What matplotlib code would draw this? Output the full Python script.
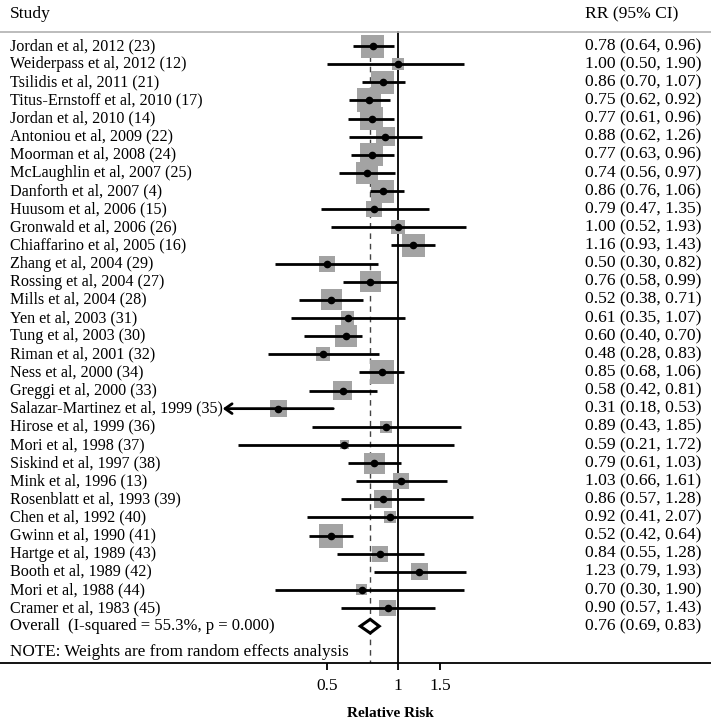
import numpy as np
import matplotlib
matplotlib.use("Agg")
import matplotlib.pyplot as plt
from matplotlib.patches import Polygon
from matplotlib import transforms

plt.rcParams["font.family"] = "Liberation Serif"

studies = ["Jordan et al, 2012 (23)", "Weiderpass et al, 2012 (12)", "Tsilidis et al, 2011 (21)",
           "Titus-Ernstoff et al, 2010 (17)", "Jordan et al, 2010 (14)", "Antoniou et al, 2009 (22)",
           "Moorman et al, 2008 (24)", "McLaughlin et al, 2007 (25)", "Danforth et al, 2007 (4)",
           "Huusom et al, 2006 (15)", "Gronwald et al, 2006 (26)", "Chiaffarino et al, 2005 (16)",
           "Zhang et al, 2004 (29)", "Rossing et al, 2004 (27)", "Mills et al, 2004 (28)",
           "Yen et al, 2003 (31)", "Tung et al, 2003 (30)", "Riman et al, 2001 (32)",
           "Ness et al, 2000 (34)", "Greggi et al, 2000 (33)", "Salazar-Martinez et al, 1999 (35)",
           "Hirose et al, 1999 (36)", "Mori et al, 1998 (37)", "Siskind et al, 1997 (38)",
           "Mink et al, 1996 (13)", "Rosenblatt et al, 1993 (39)", "Chen et al, 1992 (40)",
           "Gwinn et al, 1990 (41)", "Hartge et al, 1989 (43)", "Booth et al, 1989 (42)",
           "Mori et al, 1988 (44)", "Cramer et al, 1983 (45)"]
rr = [0.78, 1.00, 0.86, 0.75, 0.77, 0.88, 0.77, 0.74, 0.86, 0.79, 1.00, 1.16, 0.50, 0.76, 0.52, 0.61,
      0.60, 0.48, 0.85, 0.58, 0.31, 0.89, 0.59, 0.79, 1.03, 0.86, 0.92, 0.52, 0.84, 1.23, 0.70, 0.90]
lo = [0.64, 0.50, 0.70, 0.62, 0.61, 0.62, 0.63, 0.56, 0.76, 0.47, 0.52, 0.93, 0.30, 0.58, 0.38, 0.35,
      0.40, 0.28, 0.68, 0.42, 0.18, 0.43, 0.21, 0.61, 0.66, 0.57, 0.41, 0.42, 0.55, 0.79, 0.30, 0.57]
hi = [0.96, 1.90, 1.07, 0.92, 0.96, 1.26, 0.96, 0.97, 1.06, 1.35, 1.93, 1.43, 0.82, 0.99, 0.71, 1.07,
      0.70, 0.83, 1.06, 0.81, 0.53, 1.85, 1.72, 1.03, 1.61, 1.28, 2.07, 0.64, 1.28, 1.93, 1.90, 1.43]
# approximate random-effects weights (%)
weights = [4.68, 1.28, 4.68, 5.10, 4.68, 3.20, 4.68, 4.29, 4.68, 2.27, 1.74, 4.68, 2.27, 3.91, 3.91, 1.50,
           4.29, 1.74, 5.10, 3.20, 2.56, 1.28, 0.72, 3.91, 2.27, 2.87, 1.28, 5.10, 2.27, 2.56, 1.07, 2.27]
overall = (0.76, 0.69, 0.83)
overall_label = "Overall  (I-squared = 55.3%, p = 0.000)"
note = "NOTE: Weights are from random effects analysis"
xticks = [0.5, 1, 1.5]
arrow_rows = [20]

W, H = 711, 722
fig = plt.figure(figsize=(W / 100, H / 100), dpi=100)
ax = fig.add_axes([0, 59 / H, 1, 663 / H])
ax.set_xscale("log")
ax.set_xlim(0.02045, 21.2)
ax.set_ylim(34.03, -2.54)

n = len(studies)
ys = np.arange(n)
fs = 11.6      # left labels
fs_r = 12.6    # RR column
tr = transforms.blended_transform_factory(ax.transAxes, ax.transData)

# boxes (area proportional to weight)
side_px = np.sqrt(np.array(weights) * 112.9)
ax.scatter(rr, ys, s=(side_px * 0.72) ** 2, marker="s", color="#a3a3a3", lw=0, zorder=2)

for i in range(n):
    if i in arrow_rows:
        ax.annotate("", xy=(lo[i], i), xytext=(hi[i], i),
                    arrowprops=dict(arrowstyle="->,head_length=0.5,head_width=0.35", lw=2, color="black",
                                    shrinkA=0, shrinkB=0), zorder=3)
    else:
        ax.plot([lo[i], hi[i]], [i, i], color="black", lw=2, solid_capstyle="butt", zorder=3)
    ax.text(0.014, i, studies[i], transform=tr, ha="left", va="center", fontsize=fs)
    ax.text(0.823, i, f"{rr[i]:.2f} ({lo[i]:.2f}, {hi[i]:.2f})", transform=tr,
            ha="left", va="center", fontsize=fs_r)
ax.plot(rr, ys, "o", color="black", ms=4.5, zorder=4)

# overall
yo = n
o, ol, oh = overall
dia = Polygon([(ol, yo), (o, yo - 0.38), (oh, yo), (o, yo + 0.38)], closed=True,
              facecolor="white", edgecolor="black", lw=2.2, zorder=5)
ax.add_patch(dia)
ax.text(0.014, yo, overall_label, transform=tr, ha="left", va="center", fontsize=fs + 0.4)
ax.text(0.823, yo, f"{o:.2f} ({ol:.2f}, {oh:.2f})", transform=tr, ha="left", va="center", fontsize=fs_r)
ax.text(0.014, yo + 1.45, note, transform=tr, ha="left", va="center", fontsize=12.3)

# reference lines
ax.plot([1, 1], [-0.77, 34.03], color="black", lw=1.3, zorder=1)
ax.plot([o, o], [-0.6, 34.03], color="#444444", lw=1, ls=(0, (4, 3.5)), zorder=1)
ax.axhline(-0.77, color="#b0b0b0", lw=1.2)

# header
ax.text(0.014, -1.77, "Study", transform=tr, ha="left", va="center", fontsize=fs_r)
ax.text(0.823, -1.77, "RR (95% CI)", transform=tr, ha="left", va="center", fontsize=fs_r)

# axis
for s in ["top", "left", "right"]:
    ax.spines[s].set_visible(False)
ax.spines["bottom"].set_linewidth(1.3)
ax.set_yticks([])
ax.set_xticks(xticks)
ax.set_xticklabels([f"{t:g}" for t in xticks])
ax.xaxis.set_minor_locator(matplotlib.ticker.NullLocator())
ax.tick_params(axis="x", direction="out", length=5, width=1.3, pad=6, labelsize=12.5)
ax.set_xlabel("Relative Risk", fontsize=11, fontweight="bold")
ax.xaxis.set_label_coords(390 / W, -0.066)

fig.savefig("out.png", dpi=100)
